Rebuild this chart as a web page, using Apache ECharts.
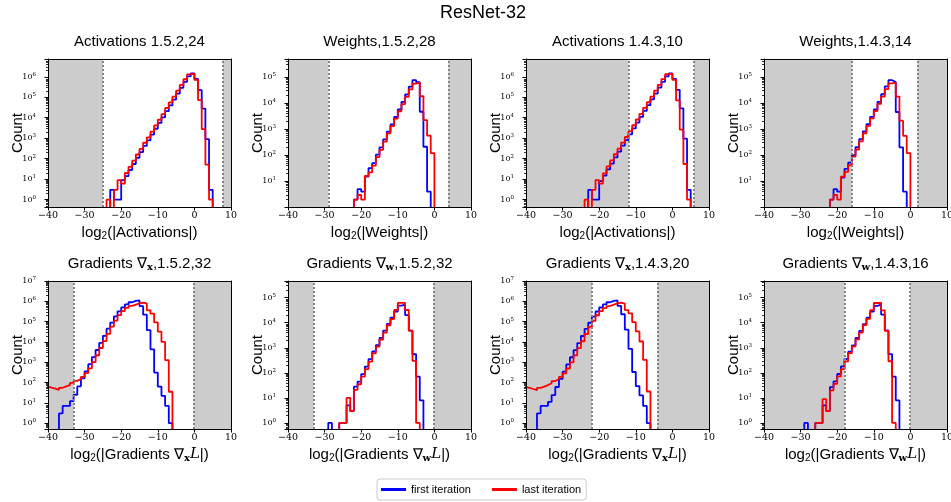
<!DOCTYPE html>
<html>
<head>
<meta charset="utf-8">
<script src="https://cdn.jsdelivr.net/npm/echarts@6/dist/echarts.min.js"></script>
<style>
  html, body { margin: 0; padding: 0; background: #ffffff; }
  #chart { width: 951px; height: 502px; }
</style>
</head>
<body>
<div id="chart"></div>
<script>
// ---------------------------------------------------------------------------
// Histogram data: counts per log2 bin of width 1, bins start at *Start.
// Blue = first iteration, red = last iteration.
// ---------------------------------------------------------------------------
const suptitle = 'ResNet-32';
const seriesNames = ['first iteration', 'last iteration'];
const xTicks = [-40, -30, -20, -10, 0, 10];

// Activations 1.5.2,24
const act152Start = -24;
const act152First = [0, 3, 1, 1, 9, 14, 28, 55, 110, 210, 420, 780, 1500, 2900, 5600, 10500,
  21000, 40000, 77000, 150000, 290000, 560000, 1050000, 1450000, 780000, 225000, 28000, 900, 3];
const act152Last = [1, 0, 3, 9, 6, 20, 40, 80, 160, 300, 600, 1100, 2100, 4200, 8000, 15000,
  30000, 56000, 107000, 210000, 400000, 760000, 1320000, 1410000, 700000, 72000, 2750, 51, 1];

// Weights,1.5.2,28
const w152Start = -22;
const w152First = [2, 5, 4, 15, 32, 50, 105, 200, 400, 800, 1500, 2900, 5600, 11000, 21000,
  42000, 75000, 62000, 4600, 210, 4, 0];
const w152Last = [2, 3, 2, 16, 22, 40, 85, 160, 330, 680, 1300, 2500, 4800, 9000, 17000,
  33000, 55000, 60000, 18000, 2200, 560, 120];

// Activations 1.4.3,10
const act143Start = -24;
const act143First = [0, 3, 1, 1, 8, 15, 30, 58, 115, 220, 430, 800, 1550, 3000, 5800, 11000,
  21500, 41000, 79000, 152000, 295000, 570000, 1060000, 1450000, 790000, 230000, 29000, 950, 3];
const act143Last = [1, 0, 3, 9, 6, 19, 42, 82, 165, 310, 610, 1150, 2200, 4300, 8200, 15500,
  30500, 57000, 108000, 212000, 405000, 770000, 1330000, 1420000, 710000, 70000, 2600, 55, 1];

// Weights,1.4.3,14
const w143Start = -22;
const w143First = [2, 5, 4, 14, 30, 52, 100, 205, 410, 820, 1550, 2950, 5700, 11000, 21500,
  43000, 74000, 63000, 4500, 200, 4, 0];
const w143Last = [2, 3, 2, 15, 23, 42, 88, 165, 335, 690, 1320, 2550, 4900, 9200, 17500,
  33500, 56000, 60000, 17500, 2100, 550, 120];

// Gradients wrt activations, 1.5.2,32
const gx152Start = -41;
const gx152First = [0, 0, 0, 0, 3, 7, 7, 12, 25, 65, 160, 350, 800, 1800, 4000, 9000, 20000,
  45000, 90000, 180000, 320000, 500000, 700000, 900000, 1050000, 1100000, 580000, 220000,
  38000, 4300, 310, 63, 22, 7, 1];
const gx152Last = [63, 56, 50, 43, 55, 65, 75, 95, 120, 150, 190, 290, 500, 1000, 2200, 5000,
  11000, 25000, 56000, 112000, 210000, 330000, 470000, 590000, 690000, 790000, 870000,
  780000, 360000, 250000, 91000, 32000, 10000, 1260, 35];

// Gradients wrt weights, 1.5.2,32
const gw152Start = -29;
const gw152First = [1, 0, 0, 1, 1, 5, 3, 28, 45, 89, 178, 355, 710, 1260, 2500, 4800, 8900,
  16000, 28000, 48000, 52000, 20000, 4800, 550, 71, 8];
const gw152Last = [0, 0, 0, 1, 1, 10, 3, 21, 35, 71, 141, 280, 600, 1120, 2140, 4000, 7900,
  14000, 32000, 61600, 61600, 32000, 4800, 300, 1, 0];

// Gradients wrt activations, 1.4.3,20
const gx143Start = -41;
const gx143First = [0, 0, 0, 0, 3, 7, 7, 11, 24, 60, 150, 340, 780, 1750, 3900, 8800, 19500,
  44000, 88000, 175000, 315000, 495000, 700000, 900000, 1060000, 1100000, 590000, 230000,
  40000, 4500, 330, 66, 23, 7, 1];
const gx143Last = [60, 55, 48, 42, 54, 63, 74, 92, 118, 148, 188, 285, 490, 980, 2150, 4900,
  10800, 24500, 55000, 110000, 205000, 325000, 465000, 585000, 690000, 790000, 860000,
  770000, 370000, 255000, 95000, 33000, 10500, 1300, 36];

// Gradients wrt weights, 1.4.3,16
const gw143Start = -29;
const gw143First = [1, 0, 0, 1, 1, 5, 3, 27, 46, 90, 180, 350, 700, 1250, 2450, 4700, 8800,
  15800, 27500, 47000, 53000, 21000, 4900, 560, 70, 8];
const gw143Last = [0, 0, 0, 1, 1, 9, 3, 20, 36, 72, 140, 285, 610, 1130, 2150, 4050, 8000,
  14200, 31500, 61000, 62000, 31000, 4700, 290, 1, 0];

// Representable range (log2) of each number format, shaded outside.
const rangeLo = [-25, -29, -12, -16, -33, -33, -22, -18];
const rangeHi = [7.81, 3.81, 5.91, 1.91, -0.19, -0.19, -4.09, -0.09];

// Count axis limits per panel.
const yMin = [0.437, 1.04, 0.437, 1.04, 0.513, 0.575, 0.513, 0.575];
const yMax = [7.4e6, 4.8e5, 7.4e6, 4.8e5, 1e7, 4.6e5, 1e7, 4.6e5];

const panelTitles = [
  'Activations 1.5.2,24',
  'Weights,1.5.2,28',
  'Activations 1.4.3,10',
  'Weights,1.4.3,14',
  'Gradients \u2207{bx|x},1.5.2,32',
  'Gradients \u2207{bx|w},1.5.2,32',
  'Gradients \u2207{bx|x},1.4.3,20',
  'Gradients \u2207{bx|w},1.4.3,16'
];
const xNames = [
  'log{sub|2}(|Activations|)',
  'log{sub|2}(|Weights|)',
  'log{sub|2}(|Activations|)',
  'log{sub|2}(|Weights|)',
  'log{sub|2}(|Gradients \u2207{bx|x}{it|L}|)',
  'log{sub|2}(|Gradients \u2207{bx|w}{it|L}|)',
  'log{sub|2}(|Gradients \u2207{bx|x}{it|L}|)',
  'log{sub|2}(|Gradients \u2207{bx|w}{it|L}|)'
];
const binStarts = [act152Start, w152Start, act143Start, w143Start, gx152Start, gw152Start, gx143Start, gw143Start];
const firstCounts = [act152First, w152First, act143First, w143First, gx152First, gw152First, gx143First, gw143First];
const lastCounts = [act152Last, w152Last, act143Last, w143Last, gx152Last, gw152Last, gx143Last, gw143Last];

// ---------------------------------------------------------------------------
// Layout & styling
// ---------------------------------------------------------------------------
const SANS = '"Liberation Sans", Arial, Helvetica, sans-serif';
const SERIF = '"DejaVu Serif", serif';
const BLUE = '#0000ff';
const RED = '#ff0000';
const SHADE = '#cccccc';
const FLOOR = 1e-2;               // stand-in for empty bins on the log axis (below every axis min)
const colLeft = [48, 288, 526, 764];
const rowTop = [59, 281];
const plotW = 183, plotH = 148;

// Histogram outline as a step path (like histtype='step').
function outline(start, counts) {
  const pts = [[start, FLOOR]];
  counts.forEach((c, k) => pts.push([start + k, c > 0 ? c : FLOOR]));
  pts.push([start + counts.length, FLOOR]);
  return pts;
}

// Minor tick positions 2..9 x 10^d inside [lo, hi].
function minorTickValues(lo, hi) {
  const out = [];
  for (let d = Math.floor(Math.log10(lo)); d <= Math.ceil(Math.log10(hi)); d++) {
    for (let m = 2; m <= 9; m++) {
      const v = m * Math.pow(10, d);
      if (v >= lo && v <= hi) out.push(v);
    }
  }
  return out;
}

function minusLabel(v) {
  return v < 0 ? '\u2212' + Math.abs(v) : String(v);
}

function decadeLabel(v) {
  const e = Math.log10(v);
  const r = Math.round(e);
  if (Math.abs(e - r) > 1e-4) return '';
  return '{b|10}{s|' + r + '}';
}

const nameRich = {
  sub: { fontSize: 10, fontFamily: SANS, color: '#000', padding: [7, 0, 0, 0] },
  bx: { fontSize: 10, fontFamily: SERIF, fontWeight: 'bold', color: '#000', padding: [7, 0, 0, 0] },
  it: { fontSize: 15, fontFamily: SERIF, fontStyle: 'italic', color: '#000' }
};

const grids = [], xAxes = [], yAxes = [], series = [], graphics = [];

graphics.push({
  type: 'text', x: 483, y: 13,
  style: { text: suptitle, fontSize: 18, fontFamily: SANS, fill: '#000', align: 'center', verticalAlign: 'middle' }
});

for (let i = 0; i < 8; i++) {
  const row = Math.floor(i / 4), col = i % 4;
  const left = colLeft[col], top = rowTop[row];
  grids.push({ left: left, top: top, width: plotW, height: plotH, containLabel: false, outerBoundsMode: 'none' });

  graphics.push({
    type: 'text', x: left + plotW / 2, y: top - 17,
    style: {
      text: panelTitles[i], fontSize: 15, fontFamily: SANS, fill: '#000',
      align: 'center', verticalAlign: 'middle',
      rich: {
        bx: { fontSize: 10, fontFamily: SERIF, fontWeight: 'bold', fill: '#000', padding: [7, 0, 0, 0] }
      }
    }
  });

  // bottom x axis (ticks + labels)
  xAxes.push({
    gridIndex: i, type: 'value', position: 'bottom', min: -40, max: 10, interval: 10, z: 10,
    axisLine: { show: true, onZero: false, lineStyle: { color: '#000', width: 1 } },
    axisTick: { show: true, length: 3.5, lineStyle: { color: '#000', width: 1 } },
    axisLabel: { show: true, margin: 4, fontSize: 9.5, fontFamily: SERIF, color: '#000', formatter: minusLabel },
    splitLine: { show: false },
    name: xNames[i], nameLocation: 'middle', nameGap: 17, nameMoveOverlap: false,
    nameTextStyle: { fontSize: 15, fontFamily: SANS, color: '#000', rich: nameRich }
  });
  // top spine
  xAxes.push({
    gridIndex: i, type: 'value', position: 'top', min: -40, max: 10, interval: 10, z: 10,
    axisLine: { show: true, onZero: false, lineStyle: { color: '#000', width: 1 } },
    axisTick: { show: false }, axisLabel: { show: false }, splitLine: { show: false }
  });
  // left log count axis (major ticks + labels)
  yAxes.push({
    gridIndex: i, type: 'log', logBase: 10, min: yMin[i], max: yMax[i], position: 'left', z: 10,
    axisLine: { show: true, onZero: false, lineStyle: { color: '#000', width: 1 } },
    axisTick: { show: true, length: 3.5, lineStyle: { color: '#000', width: 1 } },
    axisLabel: {
      show: true, margin: 12, color: '#000', formatter: decadeLabel,
      rich: {
        b: { fontSize: 8, fontFamily: SERIF, color: '#000' },
        s: { fontSize: 5.5, fontFamily: SERIF, color: '#000', padding: [0, 0, 5, 0] }
      }
    },
    splitLine: { show: false },
    name: 'Count', nameLocation: 'middle', nameGap: 23, nameMoveOverlap: false,
    nameTextStyle: { fontSize: 15, fontFamily: SANS, color: '#000' }
  });
  // right spine
  yAxes.push({
    gridIndex: i, type: 'log', logBase: 10, min: yMin[i], max: yMax[i], position: 'right', z: 10,
    axisLine: { show: true, onZero: false, lineStyle: { color: '#000', width: 1 } },
    axisTick: { show: false }, axisLabel: { show: false }, splitLine: { show: false }
  });
  // left minor ticks
  yAxes.push({
    gridIndex: i, type: 'log', logBase: 10, min: yMin[i], max: yMax[i], position: 'left', z: 10,
    axisLine: { show: false, onZero: false },
    axisTick: { show: true, length: 2, customValues: minorTickValues(yMin[i], yMax[i]),
      lineStyle: { color: '#000', width: 0.8 } },
    axisLabel: { show: false }, splitLine: { show: false }
  });

  series.push({
    name: seriesNames[0], type: 'line', xAxisIndex: 2 * i, yAxisIndex: 3 * i,
    data: outline(binStarts[i], firstCounts[i]), step: 'end', showSymbol: false, symbol: 'none',
    clip: true, silent: true, z: 3,
    lineStyle: { color: BLUE, width: 1.8 }, itemStyle: { color: BLUE },
    markArea: {
      silent: true, z: 1,
      itemStyle: { color: SHADE, opacity: 1, borderWidth: 0 },
      label: { show: false },
      data: [
        [{ xAxis: -40 }, { xAxis: rangeLo[i] }],
        [{ xAxis: rangeHi[i] }, { xAxis: 10 }]
      ]
    },
    markLine: {
      silent: true, symbol: 'none', label: { show: false },
      lineStyle: { color: '#858585', width: 2, type: [2, 2], opacity: 1 },
      data: [{ xAxis: rangeLo[i] }, { xAxis: rangeHi[i] }]
    }
  });
  series.push({
    name: seriesNames[1], type: 'line', xAxisIndex: 2 * i, yAxisIndex: 3 * i,
    data: outline(binStarts[i], lastCounts[i]), step: 'end', showSymbol: false, symbol: 'none',
    clip: true, silent: true, z: 4,
    lineStyle: { color: RED, width: 1.8 }, itemStyle: { color: RED }
  });
}

const chart = echarts.init(document.getElementById('chart'), null, { renderer: 'canvas' });
chart.setOption({
  animation: false,
  backgroundColor: '#ffffff',
  grid: grids,
  xAxis: xAxes,
  yAxis: yAxes,
  series: series,
  graphic: graphics,
  legend: {
    data: seriesNames, left: 377, top: 479, orient: 'horizontal',
    icon: 'rect', itemWidth: 25, itemHeight: 3, itemGap: 21,
    padding: [5, 5, 5, 4],
    borderColor: '#cccccc', borderWidth: 1, borderRadius: 3, backgroundColor: '#ffffff',
    textStyle: { fontSize: 11, fontFamily: SANS, color: '#000', lineHeight: 11 },
    selectedMode: false
  },
  tooltip: { show: false }
});
</script>
</body>
</html>
